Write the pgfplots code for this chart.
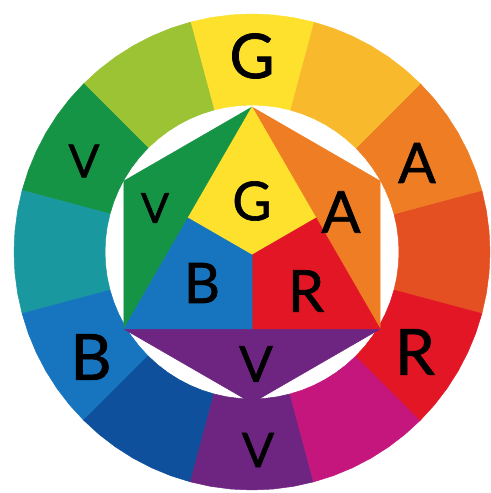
\documentclass[border=0pt]{standalone}
\usepackage{pgfplots}
\pgfplotsset{compat=1.18}
\usepackage{fontspec}
\setmainfont{Lato}
\newfontfamily\hand{Lato}[FakeBold=1.2]
\definecolor{rY}{HTML}{FDE12D}
\definecolor{rYO}{HTML}{F9B92D}
\definecolor{rO}{HTML}{EE7D23}
\definecolor{rRO}{HTML}{E55023}
\definecolor{rR}{HTML}{E21624}
\definecolor{rM}{HTML}{C4167D}
\definecolor{rV}{HTML}{6E2582}
\definecolor{rDB}{HTML}{0E509B}
\definecolor{rB}{HTML}{1675BE}
\definecolor{rT}{HTML}{1A98A0}
\definecolor{rG}{HTML}{169446}
\definecolor{rYG}{HTML}{9BC334}
\pgfplotsset{seg/.style={fill=#1, draw=#1, line width=0.5pt, mark=none}}
\newcommand{\lt}[3]{\node[inner sep=0pt, anchor=center, font=\hand\fontsize{#3}{#3}\selectfont] at (axis cs:#1) {#2};}
\begin{document}
\begin{tikzpicture}
\begin{axis}[scale only axis, width=491bp, height=493bp,
  xmin=-252, xmax=239, ymin=-241, ymax=252,
  axis line style={draw=none}, ticks=none, clip=false]
% ring: red-orange (-15..15)
\addplot[seg=rRO] coordinates {(229.89,-61.60) (234.38,-41.33) (237.09,-20.74) (238,0) (237.09,20.74) (234.38,41.33) (229.89,61.60)
 (141.99,38.05) (144.77,25.53) (146.44,12.81) (147,0) (146.44,-12.81) (144.77,-25.53) (141.99,-38.05) (229.89,-61.60)};
% orange (15..45)
\addplot[seg=rO] coordinates {(229.89,61.60) (223.65,81.40) (215.70,100.58) (206.11,119.00) (194.96,136.51) (182.32,152.98) (168.29,168.29)
 (103.95,103.95) (112.61,94.49) (120.42,84.32) (127.31,73.5) (133.23,62.13) (138.13,50.28) (141.99,38.05) (229.89,61.60)};
% yellow-orange (45..75)
\addplot[seg=rYO] coordinates {(168.29,168.29) (152.98,182.32) (136.51,194.96) (119.00,206.11) (100.58,215.70) (81.40,223.65) (61.60,229.89)
 (38.05,141.99) (50.28,138.13) (62.13,133.23) (73.5,127.31) (84.32,120.42) (94.49,112.61) (103.95,103.95) (168.29,168.29)};
% yellow (75..105)
\addplot[seg=rY] coordinates {(61.60,229.89) (41.33,234.38) (20.74,237.09) (0,238) (-20.74,237.09) (-41.33,234.38) (-61.60,229.89)
 (-38.05,141.99) (-25.53,144.77) (-12.81,146.44) (0,147) (12.81,146.44) (25.53,144.77) (38.05,141.99) (61.60,229.89)};
% yellow-green (105..135)
\addplot[seg=rYG] coordinates {(-61.60,229.89) (-81.40,223.65) (-100.58,215.70) (-119.00,206.11) (-136.51,194.96) (-152.98,182.32) (-168.29,168.29)
 (-103.95,103.95) (-94.49,112.61) (-84.32,120.42) (-73.5,127.31) (-62.13,133.23) (-50.28,138.13) (-38.05,141.99) (-61.60,229.89)};
% green (135..165)
\addplot[seg=rG] coordinates {(-168.29,168.29) (-182.32,152.98) (-194.96,136.51) (-206.11,119.00) (-215.70,100.58) (-223.65,81.40) (-229.89,61.60)
 (-141.99,38.05) (-138.13,50.28) (-133.23,62.13) (-127.31,73.5) (-120.42,84.32) (-112.61,94.49) (-103.95,103.95) (-168.29,168.29)};
% teal (165..195)
\addplot[seg=rT] coordinates {(-229.89,61.60) (-234.38,41.33) (-237.09,20.74) (-238,0) (-237.09,-20.74) (-234.38,-41.33) (-229.89,-61.60)
 (-141.99,-38.05) (-144.77,-25.53) (-146.44,-12.81) (-147,0) (-146.44,12.81) (-144.77,25.53) (-141.99,38.05) (-229.89,61.60)};
% blue (195..225)
\addplot[seg=rB] coordinates {(-229.89,-61.60) (-223.65,-81.40) (-215.70,-100.58) (-206.11,-119.00) (-194.96,-136.51) (-182.32,-152.98) (-168.29,-168.29)
 (-103.95,-103.95) (-112.61,-94.49) (-120.42,-84.32) (-127.31,-73.5) (-133.23,-62.13) (-138.13,-50.28) (-141.99,-38.05) (-229.89,-61.60)};
% dark blue (225..255)
\addplot[seg=rDB] coordinates {(-168.29,-168.29) (-152.98,-182.32) (-136.51,-194.96) (-119.00,-206.11) (-100.58,-215.70) (-81.40,-223.65) (-61.60,-229.89)
 (-38.05,-141.99) (-50.28,-138.13) (-62.13,-133.23) (-73.5,-127.31) (-84.32,-120.42) (-94.49,-112.61) (-103.95,-103.95) (-168.29,-168.29)};
% violet (255..285)
\addplot[seg=rV] coordinates {(-61.60,-229.89) (-41.33,-234.38) (-20.74,-237.09) (0,-238) (20.74,-237.09) (41.33,-234.38) (61.60,-229.89)
 (38.05,-141.99) (25.53,-144.77) (12.81,-146.44) (0,-147) (-12.81,-146.44) (-25.53,-144.77) (-38.05,-141.99) (-61.60,-229.89)};
% magenta (285..315)
\addplot[seg=rM] coordinates {(61.60,-229.89) (81.40,-223.65) (100.58,-215.70) (119.00,-206.11) (136.51,-194.96) (152.98,-182.32) (168.29,-168.29)
 (103.95,-103.95) (94.49,-112.61) (84.32,-120.42) (73.5,-127.31) (62.13,-133.23) (50.28,-138.13) (38.05,-141.99) (61.60,-229.89)};
% red (315..345)
\addplot[seg=rR] coordinates {(168.29,-168.29) (182.32,-152.98) (194.96,-136.51) (206.11,-119.00) (215.70,-100.58) (223.65,-81.40) (229.89,-61.60)
 (141.99,-38.05) (138.13,-50.28) (133.23,-62.13) (127.31,-73.5) (120.42,-84.32) (112.61,-94.49) (103.95,-103.95) (168.29,-168.29)};
% inner hexagon
\addplot[seg=rO] coordinates {(0,145) (128.17,71) (128.17,-77) (0,145)};
\addplot[seg=rG] coordinates {(0,145) (-128.17,71) (-128.17,-77) (0,145)};
\addplot[seg=rV] coordinates {(-128.17,-77) (128.17,-77) (0,-151) (-128.17,-77)};
\addplot[seg=rY] coordinates {(0,145) (64.09,34) (0,-3) (-64.09,34) (0,145)};
\addplot[seg=rR] coordinates {(64.09,34) (128.17,-77) (0,-77) (0,-3) (64.09,34)};
\addplot[seg=rB] coordinates {(-64.09,34) (0,-3) (0,-77) (-128.17,-77) (-64.09,34)};
% letters
\lt{0,196}{G}{62}
\lt{165,89}{A}{56}
\lt{163,-100}{R}{64}
\lt{6,-198}{V}{48}
\lt{-161,-105}{B}{64}
\lt{-168,91}{V}{46}
\lt{-97,44}{V}{42}
\lt{0,51}{G}{54}
\lt{89,40}{A}{58}
\lt{-50,-31}{B}{56}
\lt{54,-39}{R}{58}
\lt{4,-112}{V}{50}
\end{axis}
\end{tikzpicture}
\end{document}
